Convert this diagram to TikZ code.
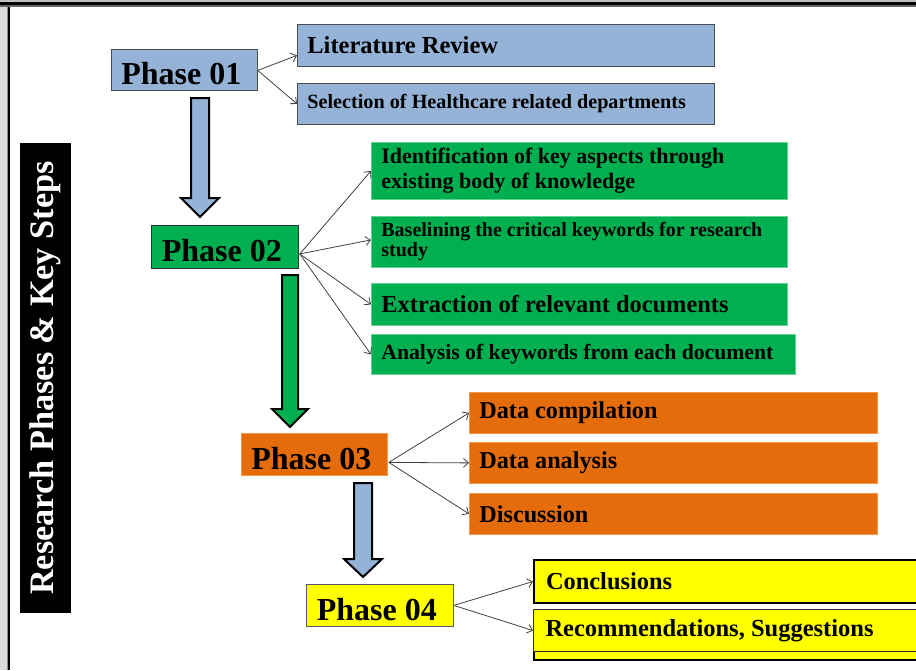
\documentclass[tikz,border=0pt]{standalone}
\usepackage{fontspec}
\setmainfont{Liberation Serif}
\usetikzlibrary{arrows.meta,calc}
\definecolor{pblue}{HTML}{95B3D7}
\definecolor{pgreen}{HTML}{00B050}
\definecolor{porange}{HTML}{E46C0A}
\definecolor{lorange}{HTML}{F79646}
\definecolor{pyellow}{HTML}{FFFF00}
\newcommand{\fsz}[2]{\fontsize{#1}{#2}\selectfont}
\begin{document}
\begin{tikzpicture}[x=1pt,y=-1pt,
  box/.style={anchor=north west, inner xsep=10pt, inner ysep=0pt, align=flush left, line width=0.8pt},
  phasebox/.style={anchor=north west, inner xsep=10pt, inner ysep=0pt, align=flush left, text width=126pt, text height=30pt, text depth=0pt, font=\bfseries\fsz{32}{34}, line width=0.8pt},
  conn/.style={draw=black!75, line width=0.8pt, -{Straight Barb[length=5pt,width=9pt]}},
  blockarrow/.style={draw=black, line width=2pt, line join=miter}]
\useasboundingbox (0,0) rectangle (916,670);
\clip (0,0) rectangle (916,670);
% frame
\fill[black!25] (0,0) rectangle (916,1.7);
\fill[black] (0,1.7) rectangle (916,5);
\fill[black!60] (0,5) rectangle (916,7);
\fill[black!15] (0,7) rectangle (7,670);
\fill[black!45] (7,7) rectangle (8.3,670);
\fill[black] (8.3,7) rectangle (10.2,670);
% side label
\node[fill=black, text=white, rotate=90, minimum width=470pt, minimum height=51pt, inner sep=0pt, font=\bfseries\fsz{34.3}{36}] (lbl) at (45.5,378) {Research Phases \& Key Steps};
% phase 01
\node[phasebox, fill=pblue, draw=black!70, minimum width=146pt, minimum height=41pt] (p1) at (111,49) {Phase 01};
\node[box, fill=pblue, draw=black!70, minimum height=42pt, text width=397pt, font=\bfseries\fsz{24.5}{27}] (lit) at (297,24) {Literature Review};
\node[box, fill=pblue, draw=black!70, minimum height=41pt, text width=397pt, font=\bfseries\fsz{20.2}{22}] (sel) at (297,83) {Selection of Healthcare related departments};
% phase 02
\node[phasebox, fill=pgreen, draw=black!80, minimum width=147pt, minimum height=43pt] (p2) at (151,225) {Phase 02};
\node[box, fill=pgreen, draw=pgreen!60!white, minimum height=57pt, text width=396pt, font=\bfseries\fsz{22}{25}] (ide) at (371,142) {Identification of key aspects through\\existing body of knowledge};
\node[box, fill=pgreen, draw=pgreen!60!white, minimum height=51pt, text width=396pt, font=\bfseries\fsz{20}{20}] (bas) at (371,216) {Baselining the critical keywords for research\\study};
\node[box, fill=pgreen, draw=pgreen!60!white, minimum height=42pt, text width=396pt, font=\bfseries\fsz{24.4}{27}] (ext) at (371,283) {Extraction of relevant documents};
\node[box, fill=pgreen, draw=pgreen!60!white, minimum height=40pt, text width=404pt, font=\bfseries\fsz{21.7}{24}] (ana) at (371,334) {Analysis of keywords from each document};
% phase 03
\node[phasebox, fill=porange, draw=lorange, minimum width=146pt, minimum height=42pt] (p3) at (241,433) {Phase 03};
\node[box, fill=porange, draw=lorange, minimum height=41pt, text width=388pt, font=\bfseries\fsz{24.2}{26}] (dc) at (469,392) {Data compilation};
\node[box, fill=porange, draw=lorange, minimum height=41pt, text width=388pt, font=\bfseries\fsz{24.2}{26}] (da) at (469,442) {Data analysis};
\node[box, fill=porange, draw=lorange, minimum height=41pt, text width=388pt, font=\bfseries\fsz{24.2}{26}] (dis) at (469,493) {Discussion};
% phase 04
\node[phasebox, fill=pyellow, draw=black!65, minimum width=147pt, minimum height=42pt] (p4) at (306,584) {Phase 04};
\node[box, fill=pyellow, draw=black, line width=2pt, minimum height=43pt, inner xsep=12pt, text width=380pt, font=\bfseries\fsz{24.4}{26}] (con) at (533,559) {Conclusions};
\fill[pyellow, draw=black, line width=2pt] (534,614) rectangle (930,660);
\node[box, fill=pyellow, draw=black!80, line width=1pt, minimum height=42pt, inner xsep=12pt, text width=380pt, font=\bfseries\fsz{24.5}{26}] (rec) at (533,609) {Recommendations, Suggestions};
% block arrows
\draw[blockarrow, fill=pblue] (191,98) -- (209,98) -- (209,198) -- (219,198) -- (200,217) -- (181,198) -- (191,198) -- cycle;
\draw[blockarrow, fill=pgreen] (282,275) -- (298,275) -- (298,409) -- (308,409) -- (290,427) -- (272,409) -- (282,409) -- cycle;
\draw[blockarrow, fill=pblue] (354,483) -- (372,483) -- (372,559) -- (382,559) -- (363,577) -- (344,559) -- (354,559) -- cycle;
% connectors
\coordinate (o1) at ($(p1.east)+(0,0.5)$);
\draw[conn] (o1) -- ($(lit.west)+(0,10)$);
\draw[conn] (o1) -- (sel.west);
\coordinate (o2) at ($(p2.east)+(1,7)$);
\draw[conn] (o2) -- (ide.west);
\draw[conn] (o2) -- ($(bas.west)+(0,-2)$);
\draw[conn] (o2) -- (ext.west);
\draw[conn] (o2) -- (ana.west);
\coordinate (o3) at ($(p3.east)+(1,8)$);
\draw[conn] (o3) -- (dc.west);
\draw[conn] (o3) -- (da.west);
\draw[conn] (o3) -- (dis.west);
\coordinate (o4) at (p4.east);
\draw[conn] (o4) -- (con.west);
\draw[conn] (o4) -- (rec.west);
\end{tikzpicture}
\end{document}
